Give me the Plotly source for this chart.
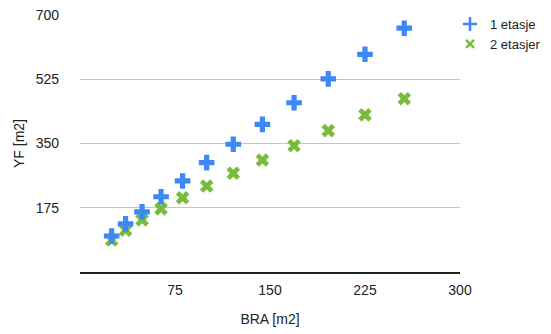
import plotly.graph_objects as go

bra = [25, 36, 49, 64, 81, 100, 121, 144, 169, 196, 225, 256]
yf_1_etasje = [98, 131, 164, 205, 248, 298, 348, 402, 461, 526, 593, 664]
yf_2_etasjer = [87, 114, 142, 172, 202, 234, 269, 305, 344, 385, 428, 472]
x_ticks = [75, 150, 225, 300]
y_ticks = [175, 350, 525, 700]

BLUE = "#3d88f5"
GREEN = "#78bc3c"
FONT = "Liberation Sans, Arial, sans-serif"
TEXT = "#222222"

W, H = 551, 334
ML, MR, MT, MB = 80, 91, 15, 62

fig = go.Figure()
# data traces (green drawn beneath blue)
fig.add_trace(go.Scatter(
    x=bra, y=yf_2_etasjer, mode="markers", name="2 etasjer", showlegend=False,
    marker=dict(symbol="x", size=12, color=GREEN, line=dict(width=0)),
))
fig.add_trace(go.Scatter(
    x=bra, y=yf_1_etasje, mode="markers", name="1 etasje", showlegend=False,
    marker=dict(symbol="cross", size=13, color=BLUE, line=dict(width=0)),
))
# legend entries with small thin symbols
fig.add_trace(go.Scatter(
    x=[None], y=[None], mode="markers", name="1 etasje", legendrank=1,
    marker=dict(symbol="cross-thin", size=10, line=dict(width=2.5, color=BLUE)),
))
fig.add_trace(go.Scatter(
    x=[None], y=[None], mode="markers", name="2 etasjer", legendrank=2,
    marker=dict(symbol="x-thin", size=8, line=dict(width=2.5, color=GREEN)),
))

fig.update_layout(
    width=W, height=H,
    margin=dict(l=ML, r=MR, t=MT, b=MB, autoexpand=False),
    paper_bgcolor="white", plot_bgcolor="white",
    font=dict(family=FONT, size=14, color=TEXT),
    showlegend=True,
    legend=dict(xref="container", x=450 / W, xanchor="left",
                yref="container", y=1 - 9 / H, yanchor="top",
                font=dict(size=13, color=TEXT),
                tracegroupgap=0, itemwidth=30,
                bgcolor="rgba(0,0,0,0)"),
    xaxis=dict(range=[0, 300], tickvals=x_ticks, ticks="",
               showgrid=False, zeroline=False, showline=True, linecolor="#222222",
               linewidth=1.5,
               title=dict(text="BRA [m2]", standoff=18, font=dict(size=14)),
               ticklabelstandoff=4, fixedrange=True),
    yaxis=dict(range=[0, 700], tickvals=y_ticks, ticks="", showgrid=True,
               gridcolor="#c4c4c4", gridwidth=1, zeroline=False, showline=False,
               title=dict(text="YF [m2]", standoff=7, font=dict(size=14)),
               ticklabelstandoff=20, fixedrange=True),
)

fig.write_html("out.html")
